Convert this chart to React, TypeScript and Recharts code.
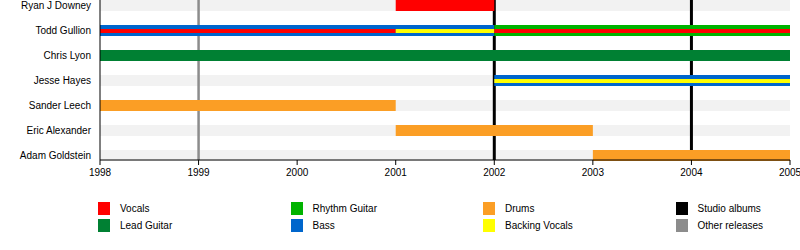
import React from "react";
import { BarChart, Bar, XAxis, YAxis, ReferenceLine } from "recharts";

const members = [
  "Ryan J Downey",
  "Todd Gullion",
  "Chris Lyon",
  "Jesse Hayes",
  "Sander Leech",
  "Eric Alexander",
  "Adam Goldstein",
];

const years = [1998, 1999, 2000, 2001, 2002, 2003, 2004, 2005];

const roles = ["Vocals", "Lead Guitar", "Rhythm Guitar", "Bass", "Drums", "Backing Vocals"];
const roleColors = ["#ff0000", "#008033", "#00b300", "#0066cc", "#fb9e25", "#ffff00"];
const vocalRoles = ["Vocals", "Backing Vocals"];

// member, role, from, to
const periods: [string, string, number, number][] = [
  ["Ryan J Downey", "Vocals", 2001, 2002],
  ["Todd Gullion", "Bass", 1998, 2002],
  ["Todd Gullion", "Rhythm Guitar", 2002, 2005],
  ["Todd Gullion", "Vocals", 1998, 2001],
  ["Todd Gullion", "Backing Vocals", 2001, 2002],
  ["Todd Gullion", "Vocals", 2002, 2005],
  ["Chris Lyon", "Lead Guitar", 1998, 2005],
  ["Jesse Hayes", "Bass", 2002, 2005],
  ["Jesse Hayes", "Backing Vocals", 2002, 2005],
  ["Sander Leech", "Drums", 1998, 2001],
  ["Eric Alexander", "Drums", 2001, 2003],
  ["Adam Goldstein", "Drums", 2003, 2005],
];

const studioAlbums = [2002, 2004];
const otherReleases = [1999];

const legendItems = [
  ["Vocals", "#ff0000"],
  ["Lead Guitar", "#008033"],
  ["Rhythm Guitar", "#00b300"],
  ["Bass", "#0066cc"],
  ["Drums", "#fb9e25"],
  ["Backing Vocals", "#ffff00"],
  ["Studio albums", "#000000"],
  ["Other releases", "#8c8c8c"],
];

const font = "'Liberation Sans', Arial, sans-serif";
const yPadding = { top: -7, bottom: -8 };

// a vocal part drawn over an instrument becomes a thin strip
const isStrip = (p: [string, string, number, number]) =>
  vocalRoles.includes(p[1]) &&
  periods.some((q) => q[0] === p[0] && !vocalRoles.includes(q[1]) && q[2] < p[3] && q[3] > p[2]);

const rows = members.map((name) => {
  const row: any = { name, band: [years[0], years[years.length - 1]] };
  periods.forEach((p, i) => {
    if (p[0] === name) row["p" + i] = [p[2], p[3]];
  });
  return row;
});

const order = periods.map((p, i) => i).sort((a, b) => Number(isStrip(periods[a])) - Number(isStrip(periods[b])));

// plain tick so long names don't wrap
const NameTick = ({ x, y, payload }: any) => (
  <text x={x} y={y} dy="0.355em" textAnchor="end" fill="#000" fontSize={10} fontFamily={font}>
    {payload.value}
  </text>
);

export default function App() {
  return (
    <div style={{ position: "absolute", left: 0, top: 0, width: 800, height: 250, fontFamily: font }}>
      <BarChart
        width={800}
        height={250}
        data={rows}
        layout="vertical"
        margin={{ top: 0, right: 10, left: 0, bottom: 60 }}
      >
        <XAxis
          type="number"
          domain={[1998, 2005]}
          ticks={years}
          interval={0}
          allowDataOverflow
          tickSize={5}
          tickMargin={4}
          height={30}
          axisLine={{ stroke: "#000" }}
          tickLine={{ stroke: "#000" }}
          tick={{ fill: "#000", fontSize: 10, fontFamily: font }}
        />
        <YAxis
          yAxisId="band"
          type="category"
          dataKey="name"
          width={100}
          interval={0}
          padding={yPadding}
          tickSize={0}
          tickMargin={9}
          tickLine={false}
          axisLine={{ stroke: "#000" }}
          tick={<NameTick />}
        />
        {periods.map((p, i) => (
          <YAxis key={"y" + i} yAxisId={"y" + i} type="category" dataKey="name" padding={yPadding} hide />
        ))}
        <Bar yAxisId="band" dataKey="band" fill="#f2f2f2" barSize={11} isAnimationActive={false} zIndex={280} />
        {otherReleases.map((y) => (
          <ReferenceLine key={"o" + y} yAxisId="band" x={y} stroke="#8c8c8c" strokeWidth={2.5} zIndex={290} />
        ))}
        {studioAlbums.map((y) => (
          <ReferenceLine key={"s" + y} yAxisId="band" x={y} stroke="#000" strokeWidth={3} zIndex={290} />
        ))}
        {order.map((i) => {
          const p = periods[i];
          return (
            <Bar
              key={"p" + i}
              yAxisId={"y" + i}
              dataKey={"p" + i}
              fill={roleColors[roles.indexOf(p[1])]}
              barSize={isStrip(p) ? 4 : 11}
              isAnimationActive={false}
              zIndex={isStrip(p) ? 310 : 300}
            />
          );
        })}
      </BarChart>
      <div style={{ position: "absolute", left: 0, top: 0, fontSize: 10, color: "#000" }}>
        {legendItems.map(([label, color], i) => {
          const col = Math.floor(i / 2);
          const row = i % 2;
          return (
            <div
              key={label}
              style={{
                position: "absolute",
                left: 98 + col * 192.5,
                top: 202 + row * 17,
                display: "flex",
                alignItems: "center",
                whiteSpace: "nowrap",
              }}
            >
              <span style={{ display: "inline-block", width: 12, height: 13, background: color }} />
              <span style={{ marginLeft: 10, lineHeight: "13px" }}>{label}</span>
            </div>
          );
        })}
      </div>
    </div>
  );
}
